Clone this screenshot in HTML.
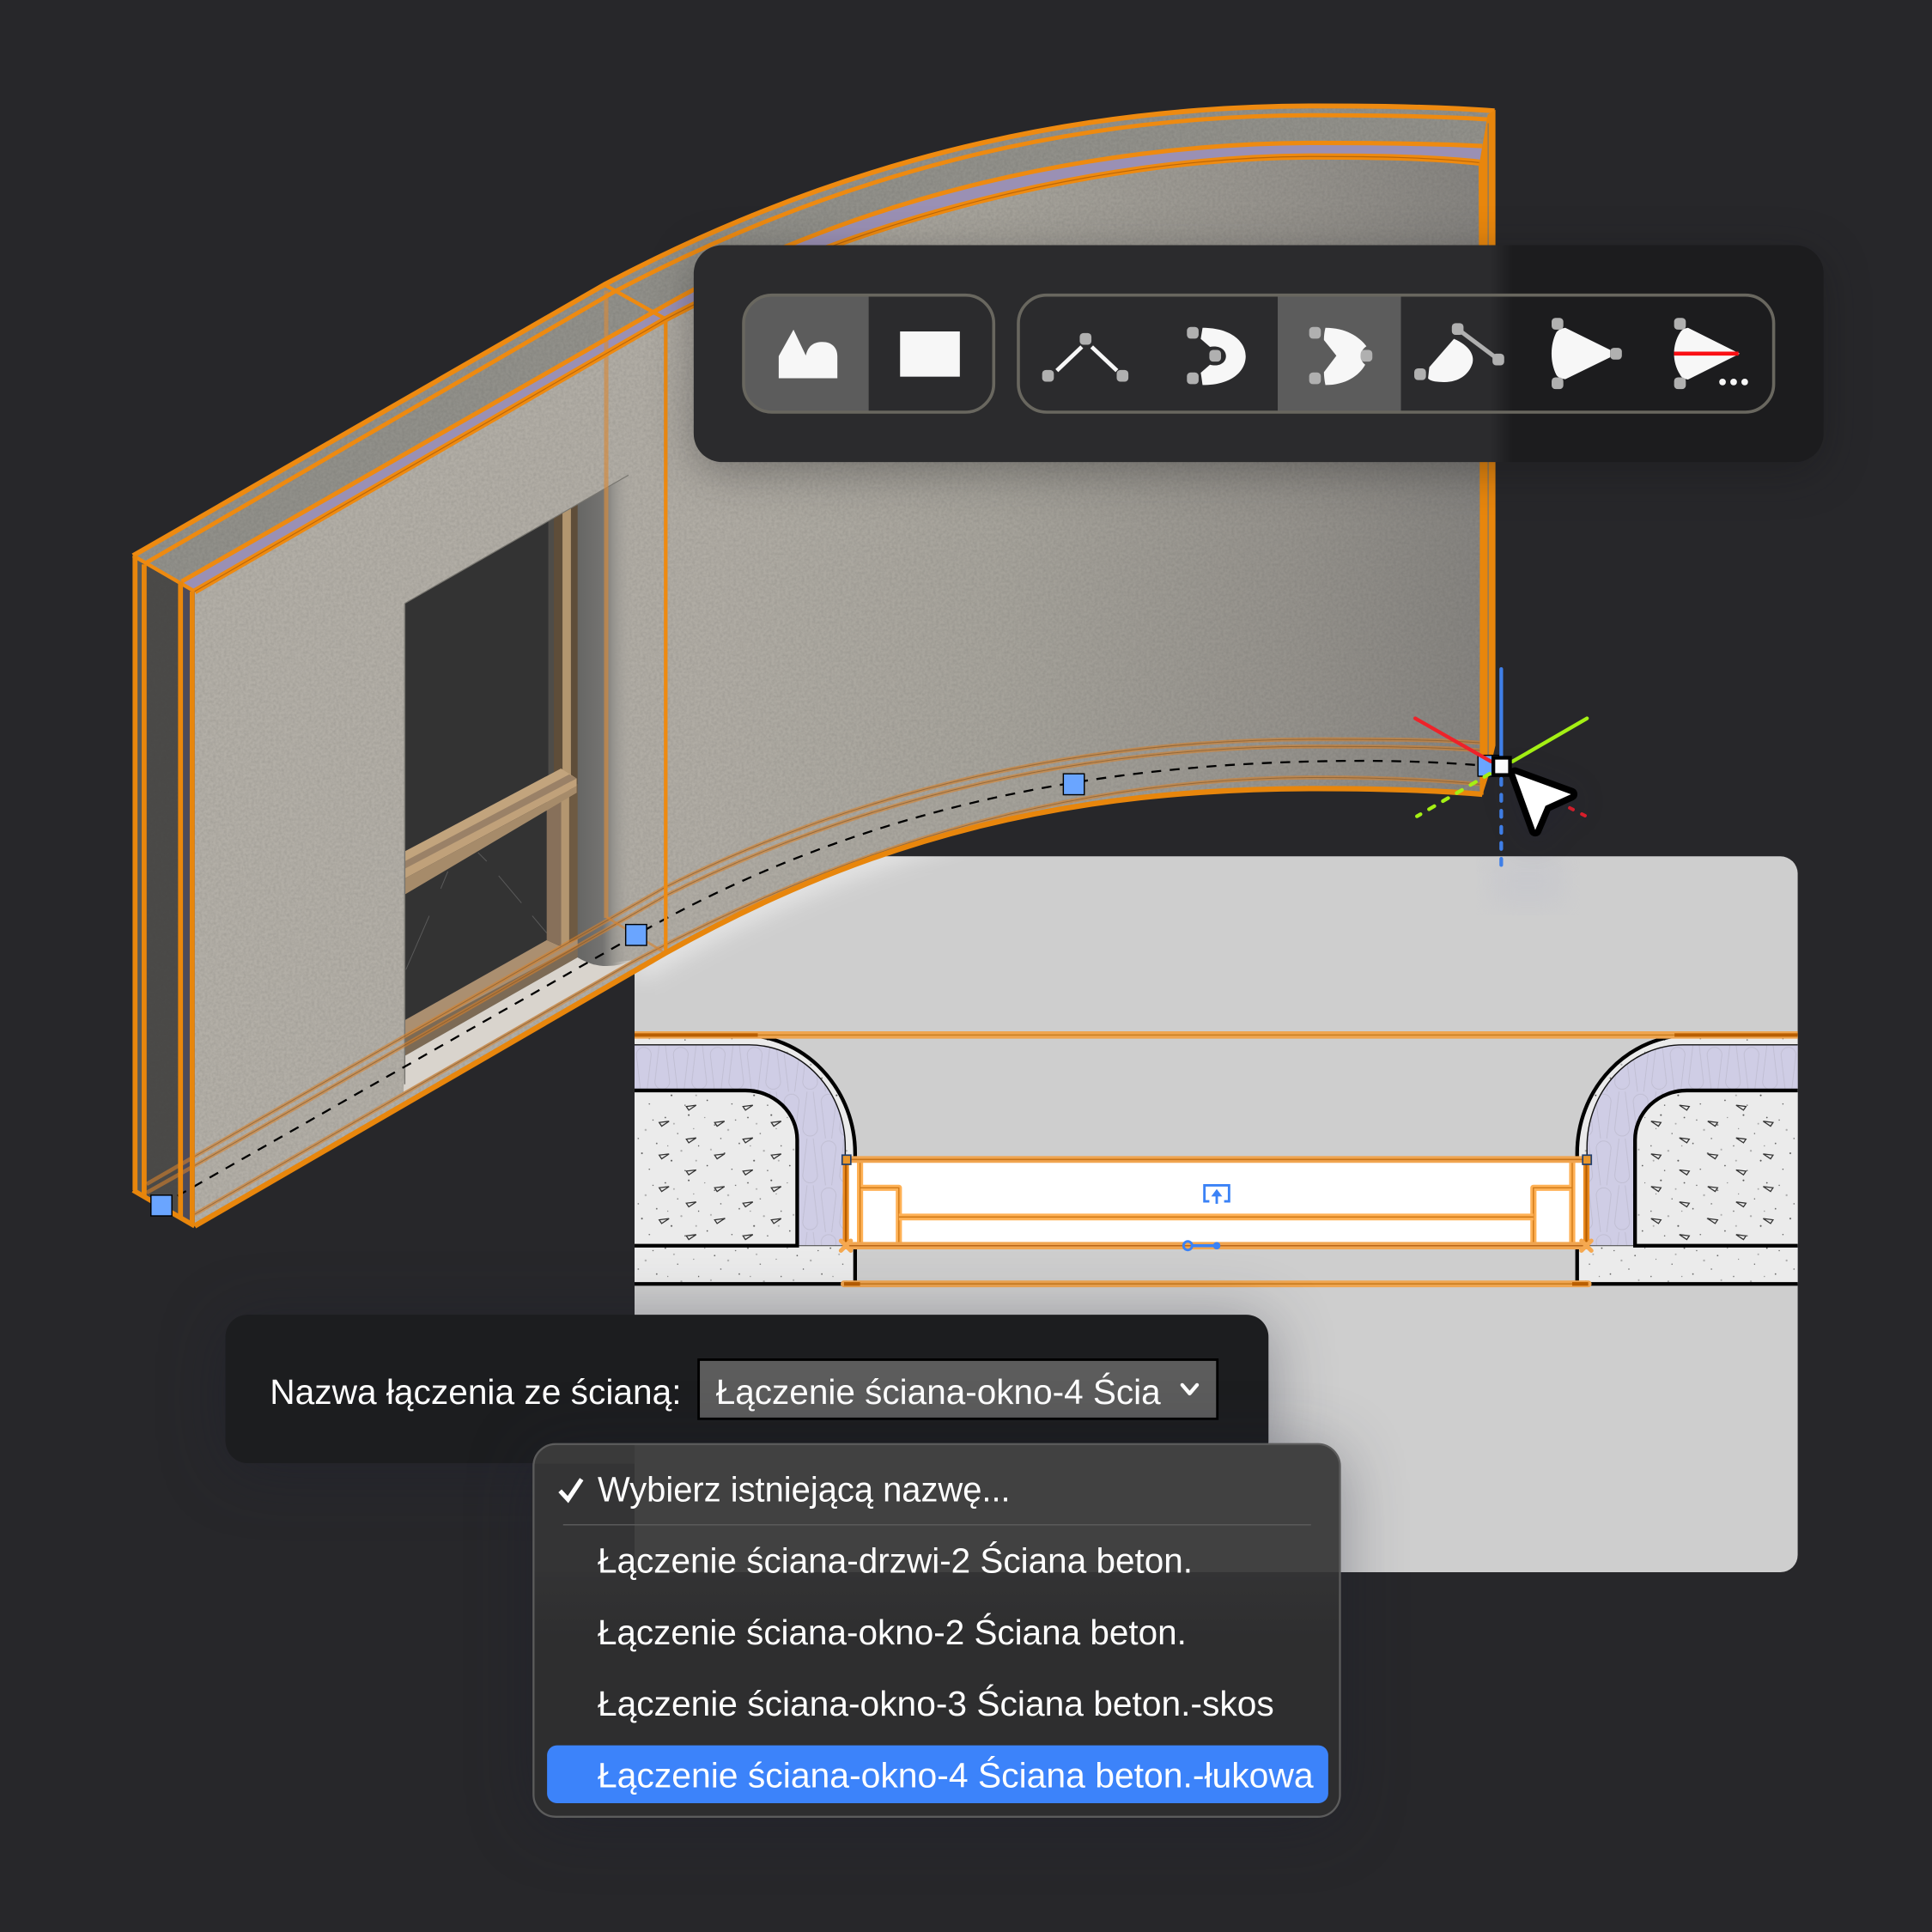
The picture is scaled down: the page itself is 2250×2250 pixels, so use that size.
<!DOCTYPE html>
<html lang="pl"><head><meta charset="utf-8"><title>Łączenie ściana-okno</title>
<style>html,body{margin:0;padding:0;background:#27272a}svg{display:block}
text{font-family:"Liberation Sans","DejaVu Sans",sans-serif;fill:#fff;font-size:28.5px}</style></head>
<body>
<svg xmlns="http://www.w3.org/2000/svg" width="2250" height="2250" viewBox="0 0 1568 1568" color-interpolation-filters="sRGB">
<defs>
<linearGradient id="wallG" gradientUnits="userSpaceOnUse" x1="158" y1="0" x2="1203" y2="0">
<stop offset="0" stop-color="#b3afa7"/><stop offset=".4" stop-color="#b0aca4"/><stop offset=".62" stop-color="#a6a39b"/><stop offset=".85" stop-color="#95928c"/><stop offset="1" stop-color="#85837f"/></linearGradient>
<linearGradient id="revG" gradientUnits="userSpaceOnUse" x1="468.8" y1="0" x2="514" y2="0">
<stop offset="0" stop-color="#666664"/><stop offset=".45" stop-color="#747371"/><stop offset=".62" stop-color="#93918c"/><stop offset="1" stop-color="#aeaaa3" stop-opacity="0"/></linearGradient>
<linearGradient id="tbG" gradientUnits="userSpaceOnUse" x1="563" y1="0" x2="1480" y2="0">
<stop offset="0" stop-color="#2b2b2d"/><stop offset=".705" stop-color="#2b2b2d"/><stop offset=".725" stop-color="#1c1c1e"/><stop offset="1" stop-color="#1c1c1e"/></linearGradient>
<linearGradient id="ddG" gradientUnits="userSpaceOnUse" x1="0" y1="1276" x2="0" y2="1330">
<stop offset="0" stop-color="#333334"/><stop offset="1" stop-color="#2e2e2f"/></linearGradient>
<filter id="noise" x="0" y="0" width="100%" height="100%" color-interpolation-filters="sRGB"><feTurbulence type="fractalNoise" baseFrequency=".45" numOctaves="2" seed="4"/><feColorMatrix values="0 0 0 0 .25  0 0 0 0 .25  0 0 0 0 .25  .22 0 0 0 -.07"/><feComposite in2="SourceGraphic" operator="in" result="n"/><feMerge><feMergeNode in="SourceGraphic"/><feMergeNode in="n"/></feMerge></filter>
<filter id="sh1" filterUnits="userSpaceOnUse" x="400" y="100" width="1200" height="400" color-interpolation-filters="sRGB"><feDropShadow dx="0" dy="8" stdDeviation="18" flood-color="#101014" flood-opacity=".35"/></filter>
<filter id="sh2" filterUnits="userSpaceOnUse" x="60" y="960" width="1300" height="600" color-interpolation-filters="sRGB"><feDropShadow dx="0" dy="6" stdDeviation="26" flood-color="#1a1c30" flood-opacity=".38"/></filter>
<filter id="blur8" x="-20%" y="-20%" width="140%" height="140%"><feGaussianBlur stdDeviation="10"/></filter>
<filter id="curS" filterUnits="userSpaceOnUse" x="1150" y="560" width="220" height="200" color-interpolation-filters="sRGB"><feDropShadow dx="0" dy="6" stdDeviation="12" flood-color="#1a1c40" flood-opacity=".22"/></filter>
<clipPath id="panelClip"><rect x="515" y="695" width="944" height="581" rx="14"/></clipPath>
<clipPath id="g1c"><rect x="603.5" y="239.5" width="203" height="95" rx="23"/></clipPath>
<clipPath id="g2c"><rect x="826.5" y="239.5" width="613" height="95" rx="23"/></clipPath>
<clipPath id="ddc"><rect x="433" y="1172" width="654.5" height="302.5" rx="18"/></clipPath>
<pattern id="ins" patternUnits="userSpaceOnUse" x="515" y="848" width="30" height="38">
<rect width="30" height="38" fill="#cfcde5"/>
<path d="M5,38 L1.5,8 A6,6 0 0 1 13.5,8 L10,38 M20,0 L16.5,30 A6,6 0 0 0 28.5,30 L25,0" fill="none" stroke="#bfbdd1" stroke-width=".6"/></pattern>
<pattern id="dots" patternUnits="userSpaceOnUse" width="67" height="53">
<rect width="67" height="53" fill="#ebebeb"/>
<g fill="#555"><circle cx="4" cy="6" r=".6"/><circle cx="14" cy="19" r=".5"/><circle cx="23" cy="4" r=".7"/><circle cx="31" cy="29" r=".5"/><circle cx="44" cy="12" r=".6"/><circle cx="52" cy="35" r=".7"/><circle cx="61" cy="8" r=".5"/><circle cx="9" cy="41" r=".7"/><circle cx="20" cy="49" r=".5"/><circle cx="38" cy="45" r=".6"/><circle cx="58" cy="48" r=".5"/><circle cx="49" cy="23" r=".5"/><circle cx="27" cy="15" r=".4"/><circle cx="64" cy="27" r=".6"/><circle cx="6" cy="29" r=".4"/><circle cx="36" cy="6" r=".4"/></g>
<g fill="#aaa"><circle cx="17" cy="33" r=".8"/><circle cx="41" cy="32" r=".7"/><circle cx="55" cy="16" r=".8"/><circle cx="29" cy="41" r=".7"/><circle cx="11" cy="11" r=".7"/></g></pattern>
</defs>

<rect width="1568" height="1568" fill="#27272a"/>

<!-- detail panel -->
<rect x="515" y="695" width="944" height="581" rx="14" fill="#cecece"/>
<g clip-path="url(#panelClip)">
<path d="M514.5,788 L540,773.5 C710,678 868.5,640 1068.5,640" fill="none" stroke="#fff" stroke-width="14" opacity=".7" filter="url(#blur8)"/>
<rect x="1210" y="695" width="60" height="40" fill="#c3c4cc" opacity=".5" filter="url(#blur8)"/>
</g>
<rect x="698" y="943" width="578" height="66" fill="#fff"/>

<g id="det">
<path d="M515,840 L602,840 A92,96 0 0 1 694,936 L694,1042 L515,1042 Z" fill="url(#dots)"/>
<path d="M515,848 L608,848 A78,83 0 0 1 686,931 L686,1011 L647,1011 L647,925 A42,40 0 0 0 605,885 L515,885 Z" fill="url(#ins)"/>
<path d="M515,885 L605,885 A42,40 0 0 1 647,925 L647,1011 L515,1011 Z" fill="url(#dots)"/>
<g fill="none" stroke="#333" stroke-width=".9">
<path d="M557,898 l8,-1 l-6,4z M603,898 l8,-1 l-6,4z M535,911 l8,-1 l-6,4z M580,911 l8,-1 l-6,4z M626,911 l8,-1 l-6,4z M557,924.5 l8,-1 l-6,4z M603,924.5 l8,-1 l-6,4z M535,937.5 l8,-1 l-6,4z M580,937.5 l8,-1 l-6,4z M626,937.5 l8,-1 l-6,4z M557,950.5 l8,-1 l-6,4z M603,950.5 l8,-1 l-6,4z M535,964 l8,-1 l-6,4z M580,964 l8,-1 l-6,4z M626,964 l8,-1 l-6,4z M557,976.5 l8,-1 l-6,4z M603,976.5 l8,-1 l-6,4z M535,990 l8,-1 l-6,4z M580,990 l8,-1 l-6,4z M626,990 l8,-1 l-6,4z M557,1003 l8,-1 l-6,4z M603,1003 l8,-1 l-6,4z"/>
</g>
<path d="M515,848 L608,848 A78,83 0 0 1 686,931 L686,941" fill="none" stroke="#111" stroke-width="1"/>
<path d="M647,1011 L686,1011" stroke="#555" stroke-width=".8" fill="none"/>
<path d="M602,840 A92,96 0 0 1 694,936 L694,1042 L515,1042" fill="none" stroke="#000" stroke-width="3"/>
<path d="M515,885 L605,885 A42,40 0 0 1 647,925 L647,1011 L515,1011" fill="none" stroke="#000" stroke-width="3"/>
<rect x="688" y="941" width="20" height="70" fill="#fff"/>
<path d="M686.5,938 L686.5,1013" stroke="#e98a20" stroke-width="5" fill="none"/>
<path d="M686.5,938 L686.5,1013" stroke="#b55c00" stroke-width="1.5" fill="none"/>
<path d="M698,941 L698,1011 M698,964 L729.5,964 L729.5,1011" fill="none" stroke="#ffb155" stroke-width="5" stroke-linejoin="round"/>
<path d="M698,941 L698,1011 M698,964 L729.5,964 L729.5,1011" fill="none" stroke="#d07a18" stroke-width="1"/>
</g>
<use href="#det" transform="translate(1974,0) scale(-1,1)"/>

<!-- long horizontal orange bands -->
<g fill="none">
<path d="M515,840 L1459,840" stroke="#efa550" stroke-width="6"/>
<path d="M515,840 L615,840 M1359,840 L1459,840" stroke="#b85e00" stroke-width="2.8"/>
<path d="M615,840 L1359,840" stroke="#c97d20" stroke-width="1.1"/>
<path d="M685,941 L1289,941" stroke="#f0a550" stroke-width="5.5"/>
<path d="M685,941 L1289,941" stroke="#c8741a" stroke-width="1.1"/>
<path d="M685,1011 L1289,1011" stroke="#f0a550" stroke-width="6"/>
<path d="M685,1011 L1289,1011" stroke="#b9671a" stroke-width="1.1"/>
<path d="M729.5,987.7 L1244.5,987.7" stroke="#ffb155" stroke-width="5.5"/>
<path d="M729.5,987.7 L1244.5,987.7" stroke="#d07a18" stroke-width="1.1"/>
<path d="M685,1042 L1289,1042" stroke="#efa550" stroke-width="5.5" stroke-linecap="round"/>
<path d="M685,1042 L1289,1042" stroke="#c97d20" stroke-width="1.1"/>
<path d="M685,1042 L698,1042 M1276,1042 L1289,1042" stroke="#b85e00" stroke-width="3"/>
<path d="M682.5,1007 l8,8 m0,-8 l-8,8 M1283.5,1007 l8,8 m0,-8 l-8,8" stroke="#f5a850" stroke-width="3.5" stroke-linecap="round"/>
</g>
<g fill="#e8962c" stroke="#22406e" stroke-width="1.2">
<rect x="683.5" y="937.5" width="7" height="7.5"/>
<rect x="1284.5" y="937.5" width="7" height="7.5"/>
</g>
<!-- blue glyphs in detail -->
<g fill="none" stroke="#3b82f6" stroke-width="2">
<path d="M981.5,975 L977.5,975 L977.5,962 L997.5,962 L997.5,975 L993.5,975"/>
<path d="M987.5,977 L987.5,968" stroke-width="2"/>
<circle cx="964" cy="1011" r="3.5"/>
<path d="M968,1011 L985,1011" stroke-width="2.5"/>
</g>
<path d="M983,971 L987.5,965 L992,971 Z" fill="#3b82f6"/>
<circle cx="987.5" cy="1011" r="3" fill="#3b82f6"/>

<!-- WALL -->
<polygon points="108,451 158,480 158,995 108,966" fill="#4b4a48" filter="url(#noise)"/>
<polygon points="108,451 119,458 119,972 108,966" fill="#5b5a56"/>
<polygon points="147,472 158,480 158,995 147,989" fill="#4c4a5a"/>
<!-- top face -->
<path d="M108,451 L490.5,231 C670,136 860,85 1067,85 C1115,85 1165,85.5 1213,89 L1203,131 C1160,126 1115,125.5 1067,125.5 C880,125.5 680,185 540.3,259 L158,480 Z" fill="#91908a" filter="url(#noise)"/>
<!-- purple -->
<path d="M147.4,472 L529.6,253.7 C680,165 880,116 1067,116 C1115,116 1160,116.5 1203,118.5 L1201,130.6 C1160,126 1115,125.5 1067,125.5 C880,125.5 680,185 540.3,259 L158,480 Z" fill="#9a90b4"/>
<!-- front face -->
<path d="M158,480 L540.3,259 C680,185 880,125.5 1067,125.5 C1115,125.5 1160,126 1203,131 L1203,644.6 C1160,641 1115,640 1068.5,640 C868.5,640 710,678 540,773.5 L158,995 Z" fill="url(#wallG)" filter="url(#noise)"/>

<!-- window -->
<polygon points="328.5,489.7 470,408.6 470,782 328.5,862" fill="#333333"/>
<g stroke="#5a5a5a" stroke-width=".7" fill="none"><path d="M388,692 L395,699 M404.7,710.8 L423.2,732.8 M432,743.3 L443.7,757.2 M348.4,743.3 L329.4,787 M363.5,707.3 L357.7,721.2"/></g>
<polygon points="445,423 449.5,420.5 449.5,640 445,642" fill="#4e4c48"/>
<polygon points="449.5,420.5 456.5,416.5 456.5,630 449.5,635" fill="#5e4d39"/>
<polygon points="456.5,416.5 463.4,412.5 463.4,640 456.5,640" fill="#b3966f"/>
<polygon points="463.4,412.5 469,409.3 469,640 463.4,640" fill="#5e4d39"/>
<polygon points="443.7,650 455.3,644 455.3,768 443.7,763" fill="#87705a"/>
<polygon points="455.3,644 462,640 462,768 455.3,768" fill="#b39670"/>
<polygon points="462,640 469,636 469,772 462,772" fill="#6e5a42"/>
<polygon points="328.5,691 455.3,623.7 468,631.8 328.5,705" fill="#c2a47d"/>
<polygon points="328.5,699 462,628.5 468,631.8 328.5,705" fill="#9a8167"/>
<polygon points="328.5,705 468,631.8 468,638 328.5,713" fill="#c0a17a"/>
<polygon points="328.5,713 468,638 468,643.4 328.5,726" fill="#a68b6a"/>
<polygon points="328.5,828 443.7,763 455,768 469,762 469,777 328.5,857" fill="#ab8f70"/>
<polygon points="328.5,842 469,767 469,777 328.5,857" fill="#7c6a55"/>
<polygon points="328.5,857 468.8,777 482,783 513,779.3 327.5,886.2" fill="#d9d4cd"/>
<path d="M468.8,409.3 L514,383.5 L514,779 Q490,790 468.8,777 Z" fill="url(#revG)"/>
<path d="M328.5,489.7 L510,385.6" stroke="#77756f" stroke-width=".8" fill="none"/>
<path d="M328.5,489.7 L328.5,880" stroke="#77756f" stroke-width="1" fill="none"/>

<!-- floor band lines -->
<g fill="none" stroke-linejoin="round">
<g stroke="#d9822b" stroke-width="3.2" opacity=".58">
<path d="M119,961 L158,938.5 L540,720 C700,640 880,600 1068.5,600 C1115,600 1160,600 1201,602.8"/>
<path d="M119,968 L158,946 L540,727 C700,647 880,605.8 1068.5,605.8 C1115,605.8 1160,606 1201,609"/>
<path d="M158,985.5 L513,781 C690,686 870,631 1068.5,631 C1115,631 1160,632.5 1201,636.5"/>
</g>
<g stroke="#7a5428" stroke-width=".7" opacity=".6">
<path d="M158,938.5 L540,720 C700,640 880,600 1068.5,600 C1115,600 1160,600 1201,602.8"/>
<path d="M158,946 L540,727 C700,647 880,605.8 1068.5,605.8 C1115,605.8 1160,606 1201,609"/>
<path d="M158,985.5 L513,781 C690,686 870,631 1068.5,631 C1115,631 1160,632.5 1201,636.5"/>
</g>
<path d="M492.5,744.5 L540,773.5" stroke="#d9822b" stroke-width="2" opacity=".6"/>
</g>

<!-- dashed path -->
<path d="M131,978 L516,759 C686,662 868,622 1068.5,617.9 C1120,616.8 1160,618 1200,621" fill="none" stroke="#000" stroke-width="1.6" stroke-dasharray="8 7"/>

<!-- orange edges -->
<g fill="none" stroke-linejoin="round">
<path d="M492,236 L492,745" stroke="#d58a3c" stroke-width="3.5" opacity=".65"/>
<path d="M540.3,259 L540.3,773" stroke="#ee8a10" stroke-width="3"/>
<g stroke="#ee8a10">
<path stroke-width="4" d="M108,451 L490.5,231 C670,136 860,86 1067,86 C1115,86 1165,86.5 1213,90"/>
<path stroke-width="3.4" d="M119,456.5 L499,236.5 C675,144 862,93.5 1067,93.5 C1115,93.5 1165,94 1209,97"/>
<path stroke-width="3.6" d="M147.4,472 L529.6,253.7 C680,165 880,116 1067,116 C1115,116 1160,116.5 1203,118.5"/>
<path stroke-width="5" d="M158,480 L540.3,259 C680,185 880,127 1067,127 C1115,127 1160,127.5 1201,132"/>
<path stroke-width="3" d="M490.5,231 L540.3,259"/>
<path stroke-width="3" d="M108,451 L158,480"/>
</g>
<path d="M158,480 L540.3,259 C680,185 880,127 1067,127 C1115,127 1160,127.5 1201,132" stroke="#b9660a" stroke-width=".8"/>
<g stroke="#e8860c" stroke-width="4">
<path d="M109.6,451 L109.6,966 M117,458 L117,972 M146.5,472 L146.5,988 M156,480 L156,994"/>
<path d="M108,966 L158,995"/>
</g>
</g>
<polygon points="1201,131 1207.4,93 1213.7,89 1213.7,605 1207.4,631.8 1203,645.7 1201,644" fill="#e8860c"/>
<path d="M1207.8,100 L1207.8,630" stroke="#8f7a5c" stroke-width="1" fill="none"/>
<path d="M158,995 L540,773.5 C710,678 868.5,640 1068.5,640 C1115,640 1160,641 1203,644.6" fill="none" stroke="#e8860c" stroke-width="4.4" stroke-linejoin="round"/>
<path d="M1203,645 L1201,132" stroke="#e8860c" stroke-width="2" fill="none"/>

<!-- blue handles -->
<g fill="#6aa5ff" stroke="#000" stroke-width="1">
<rect x="122.5" y="970" width="17" height="16.8"/>
<rect x="507.8" y="750.3" width="17" height="17"/>
<rect x="863" y="628" width="17" height="17"/>
<rect x="1199.5" y="613" width="17" height="17"/>
</g>

<!-- dialog -->
<rect x="183" y="1067" width="846.5" height="120.5" rx="18" fill="#1c1d1f" filter="url(#sh2)"/>
<text x="219" y="1139.5" textLength="334" lengthAdjust="spacingAndGlyphs">Nazwa łączenia ze ścianą:</text>
<rect x="567" y="1103.5" width="421" height="48" fill="#5c5c5c" stroke="#000" stroke-width="2"/>
<text x="581" y="1139.5" textLength="361" lengthAdjust="spacingAndGlyphs">Łączenie ściana-okno-4 Ścia</text>
<polyline points="959.5,1124 965.5,1131 971.5,1124" fill="none" stroke="#fff" stroke-width="3" stroke-linejoin="round" stroke-linecap="round"/>

<!-- dropdown -->
<rect x="433" y="1172" width="654.5" height="302.5" rx="18" fill="#2e2e2f" filter="url(#sh2)"/>
<g clip-path="url(#ddc)">
<rect x="433" y="1276" width="655" height="60" fill="url(#ddG)"/>
<rect x="433" y="1172" width="82" height="104" fill="#343435"/>
<rect x="433" y="1172" width="82" height="16" fill="#3a3a3a"/>
<rect x="515" y="1172" width="573" height="104" fill="#414141"/>
</g>
<rect x="433" y="1172" width="654.5" height="302.5" rx="18" fill="none" stroke="#5c5c5c" stroke-width="1.6"/>
<polyline points="454.5,1210 461,1217 472,1200.5" fill="none" stroke="#fff" stroke-width="3.6"/>
<text x="485" y="1218.5" textLength="335" lengthAdjust="spacingAndGlyphs">Wybierz istniejącą nazwę...</text>
<path d="M457,1237.5 L1064,1237.5" stroke="#5a5a5a" stroke-width="1"/>
<text x="485" y="1276.5" textLength="483" lengthAdjust="spacingAndGlyphs">Łączenie ściana-drzwi-2 Ściana beton.</text>
<text x="485" y="1334.5" textLength="478" lengthAdjust="spacingAndGlyphs">Łączenie ściana-okno-2 Ściana beton.</text>
<text x="485" y="1392.5" textLength="549" lengthAdjust="spacingAndGlyphs">Łączenie ściana-okno-3 Ściana beton.-skos</text>
<rect x="444" y="1416.5" width="634" height="47" rx="8" fill="#3c83fa"/>
<text x="485" y="1450.5" textLength="581" lengthAdjust="spacingAndGlyphs">Łączenie ściana-okno-4 Ściana beton.-łukowa</text>

<!-- toolbar -->
<rect x="563" y="199" width="917" height="176" rx="23" fill="url(#tbG)" filter="url(#sh1)"/>
<g clip-path="url(#g1c)"><rect x="603" y="239" width="102" height="96" fill="#5c5c5c"/></g>
<g clip-path="url(#g2c)"><rect x="1037" y="239" width="100" height="96" fill="#5c5c5c"/></g>
<rect x="603.5" y="239.5" width="203" height="95" rx="23" fill="none" stroke="#69675f" stroke-width="2.5"/>
<rect x="826.5" y="239.5" width="613" height="95" rx="23" fill="none" stroke="#69675f" stroke-width="2.5"/>
<g fill="#f7f7f7">
<path d="M632,289 L644,267.5 L654,288.5 C656,280 661,277.5 667.5,277.5 C675,277.5 679.6,282 679.6,289 L679.6,307 L632,307 Z"/>
<rect x="730.5" y="269" width="48.5" height="36.7"/>
<path d="M976,266 C1000,266 1011,278 1011,289 C1011,301 1000,312.5 976,312.5 C975.5,309 975,305 974.5,302.5 L982,296 C990,298 995,294 995,289 C995,284 990,280 982,281.5 L974.5,275 C975,272 975.5,269 976,266 Z"/>
<path d="M1075.7,266 C1092,266 1103,273 1109,281 C1103,285 1103,292 1108,296 C1103,305 1092,312.5 1075.7,312.5 C1075,309 1074.5,305 1074.5,302 L1084.6,288.7 L1074.5,276 C1074.5,272 1075,269 1075.7,266 Z"/>
<path d="M1180,275 C1192,280 1197,288 1195,295 C1192,305 1182,311 1170,310 C1165,310 1160,309 1159,307 L1160,298 Z"/>
<path d="M1270.4,266 L1306.8,284 L1306.8,290 L1270.4,307.8 C1266,307 1264,306 1263,304 C1258,294 1258,280 1263,270 C1264,268 1267,266.5 1270.4,266 Z"/>
<path d="M1370,266 L1412,287 L1370,308 C1366,307.5 1364.5,306 1363.5,304 C1357,294 1357,280 1363.5,270 C1364.5,268 1366.5,266.5 1370,266 Z"/>
<circle cx="1398" cy="310" r="2.7"/><circle cx="1407" cy="310" r="2.7"/><circle cx="1416" cy="310" r="2.7"/>
</g>
<path d="M857.7,300.8 L878,281.5 M886,281.5 L906.5,300.8" stroke="#f7f7f7" stroke-width="3.3" fill="none"/>
<path d="M1183,267 L1216,291.7" stroke="#b0b0b0" stroke-width="3.5" fill="none"/>
<path d="M1358.6,287 L1411,287" stroke="#fa0f14" stroke-width="3.2" fill="none"/>
<g fill="#b0b0b0">
<rect x="876.3" y="270.3" width="9.5" height="9.5" rx="3"/><rect x="845.8" y="300.3" width="9.5" height="9.5" rx="3"/><rect x="906.3" y="300.3" width="9.5" height="9.5" rx="3"/>
<rect x="963.3" y="265.3" width="9.5" height="9.5" rx="3"/><rect x="963.3" y="302.3" width="9.5" height="9.5" rx="3"/><rect x="981.5" y="284" width="9.5" height="9.5" rx="3"/>
<rect x="1062.5" y="265.3" width="9.5" height="9.5" rx="3"/><rect x="1062.5" y="302.3" width="9.5" height="9.5" rx="3"/><rect x="1104.3" y="284" width="9.5" height="9.5" rx="3"/>
<rect x="1178.3" y="262.3" width="9.5" height="9.5" rx="3"/><rect x="1211.3" y="287" width="9.5" height="9.5" rx="3"/><rect x="1147.8" y="299" width="9.5" height="9.5" rx="3"/>
<rect x="1259.3" y="258" width="9.5" height="9.5" rx="3"/><rect x="1259.3" y="306.3" width="9.5" height="9.5" rx="3"/><rect x="1306.8" y="282.3" width="9.5" height="9.5" rx="3"/>
<rect x="1358.7" y="258" width="9.5" height="9.5" rx="3"/><rect x="1358.7" y="306.3" width="9.5" height="9.5" rx="3"/>
</g>

<!-- gizmo -->
<g fill="none" stroke-linecap="round">
<path d="M1218.4,543 L1218.4,614" stroke="#3f7fe8" stroke-width="3"/>
<path d="M1218.4,632 L1218.4,703" stroke="#3f7fe8" stroke-width="3" stroke-dasharray="5 8"/>
<path d="M1148.6,583 L1210,618" stroke="#ee2229" stroke-width="3"/>
<path d="M1288,583 L1227.6,618" stroke="#a4f014" stroke-width="3"/>
<path d="M1209,628 L1150,662.5" stroke="#a4f014" stroke-width="3" stroke-dasharray="5 8"/>
<path d="M1274,655.7 L1286.4,662" stroke="#dc1e2a" stroke-width="2.8" stroke-dasharray="3 8"/>
</g>
<rect x="1212" y="615" width="13.5" height="14" fill="#fff" stroke="#000" stroke-width="3"/>
<polygon points="1229.5,628 1275,644.6 1254.3,654 1246,673.6" fill="#fff" stroke="#000" stroke-width="10.5" stroke-linejoin="round" paint-order="stroke" filter="url(#curS)"/>
</svg>
</body></html>
